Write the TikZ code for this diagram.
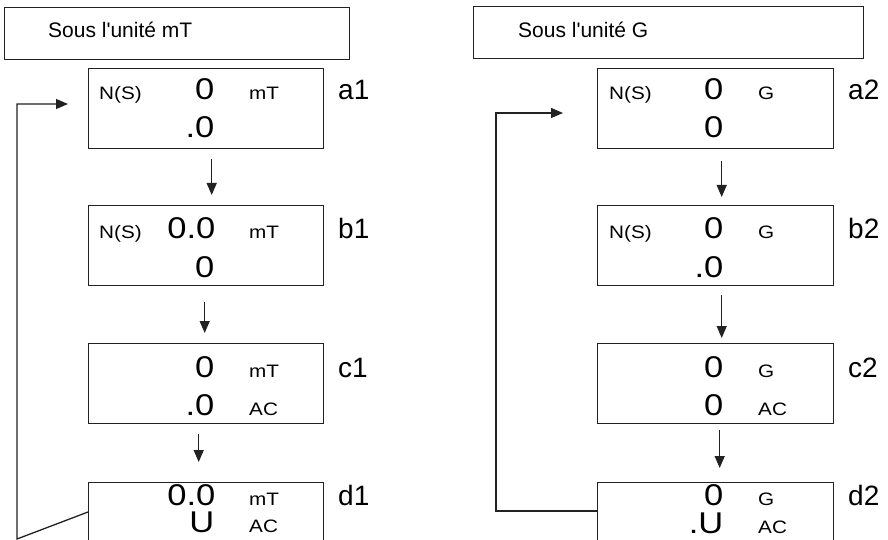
\documentclass[tikz,border=0pt]{standalone}
\usepackage{fontspec}
\setmainfont{Liberation Sans}
\newfontfamily\dispfont[FakeStretch=1.15]{Liberation Sans}
\usetikzlibrary{arrows.meta,calc}
\definecolor{lc}{RGB}{34,34,34}
\tikzset{
  dbox/.style={draw=lc, line width=1.4pt, rectangle, minimum width=235pt, minimum height=80pt, inner sep=0pt, anchor=north west},
  tbox/.style={draw=lc, line width=1.4pt, rectangle, inner sep=0pt, anchor=north west, minimum height=52pt},
  big/.style={font=\dispfont\fontsize{30}{30}\selectfont, inner sep=0pt, anchor=base east},
  unit/.style={font=\dispfont\fontsize{18}{18}\selectfont, inner sep=0pt, anchor=base west},
  lbl/.style={font=\fontsize{28}{28}\selectfont, inner sep=0pt, anchor=base west},
  ttl/.style={font=\fontsize{21}{21}\selectfont, inner sep=0pt, anchor=base west},
  arr/.style={draw=lc, line width=1.3pt, -{Triangle[length=12pt,width=10pt]}},
  lin/.style={draw=lc, line width=1.3pt},
}
\begin{document}
\begin{tikzpicture}[x=1pt,y=-1pt]
\useasboundingbox (0,0) rectangle (888,540);
\clip (0,0) rectangle (888,540);
% titles
\node[tbox, minimum width=345pt] (t1) at (4,7) {};
\node[ttl] (t1txt) at (48,38) {Sous l\textquotesingle unité mT};
\node[tbox, minimum width=390pt] (t2) at (473,6) {};
\node[ttl] (t2txt) at (518,38) {Sous l\textquotesingle unité G};
% left column boxes
\node[dbox] (a1) at (88,68) {};
\node[dbox] (b1) at (88,205) {};
\node[dbox] (c1) at (88,343) {};
\node[dbox] (d1) at (88,482) {};
% right column boxes
\node[dbox, minimum width=236pt] (a2) at (597,68) {};
\node[dbox, minimum width=236pt] (b2) at (597,205) {};
\node[dbox, minimum width=236pt] (c2) at (597,343) {};
\node[dbox, minimum width=236pt] (d2) at (597,482) {};
% a1
\node[unit] (a1n) at (99,100) {N(S)};
\node[big] (a1v) at (214.5,100) {0};
\node[unit] (a1u) at (249,100) {mT};
\node[big] (a1w) at (214.5,138) {.0};
% b1
\node[unit] (b1n) at (99,238) {N(S)};
\node[big] (b1v) at (215.5,238) {0.0};
\node[unit] (b1u) at (249,238) {mT};
\node[big] (b1w) at (214.5,277) {0};
% c1
\node[big] (c1v) at (214.5,377) {0};
\node[unit] (c1u) at (249,377) {mT};
\node[big] (c1w) at (214.5,415) {.0};
\node[unit] (c1x) at (249,415) {AC};
% d1
\node[big] (d1v) at (215.5,505) {0.0};
\node[unit] (d1u) at (249,505) {mT};
\node[big] (d1w) at (214.5,532) {U};
\node[unit] (d1x) at (249,532) {AC};
% a2
\node[unit] (a2n) at (609,100) {N(S)};
\node[big] (a2v) at (723.5,100) {0};
\node[unit] (a2u) at (758,100) {G};
\node[big] (a2w) at (723.5,138) {0};
% b2
\node[unit] (b2n) at (609,238) {N(S)};
\node[big] (b2v) at (723.5,238) {0};
\node[unit] (b2u) at (758,238) {G};
\node[big] (b2w) at (723.5,277) {.0};
% c2
\node[big] (c2v) at (723.5,377) {0};
\node[unit] (c2u) at (758,377) {G};
\node[big] (c2w) at (723.5,415) {0};
\node[unit] (c2x) at (758,415) {AC};
% d2
\node[big] (d2v) at (723.5,505) {0};
\node[unit] (d2u) at (758,505) {G};
\node[big] (d2w) at (723.5,533) {.U};
\node[unit] (d2x) at (758,533) {AC};
% labels
\node[lbl] (la1) at (338,100) {a1};
\node[lbl] (lb1) at (338,238) {b1};
\node[lbl] (lc1) at (338,377) {c1};
\node[lbl] (ld1) at (338,505) {d1};
\node[lbl] (la2) at (848,100) {a2};
\node[lbl] (lb2) at (848,238) {b2};
\node[lbl] (lc2) at (848,377) {c2};
\node[lbl] (ld2) at (848,505) {d2};
% down arrows
\draw[arr, shorten <=10pt, shorten >=10pt] ([xshift=5.5pt]a1.south) -- ([xshift=5.5pt]b1.north);
\draw[arr, shorten <=16pt, shorten >=10pt] ([xshift=-1.5pt]b1.south) -- ([xshift=-1.5pt]c1.north);
\draw[arr, shorten <=10pt, shorten >=20pt] ([xshift=-7.5pt]c1.south) -- ([xshift=-7.5pt]d1.north);
\draw[arr, shorten <=12pt, shorten >=8pt] ([xshift=6pt]a2.south) -- ([xshift=6pt]b2.north);
\draw[arr, shorten <=9pt, shorten >=5pt] ([xshift=6pt]b2.south) -- ([xshift=6pt]c2.north);
\draw[arr, shorten <=6pt, shorten >=14pt] ([xshift=4pt]c2.south) -- ([xshift=4pt]d2.north);
% loops
\coordinate (l1end) at (68,104);
\coordinate (l1top) at (17,104);
\coordinate (l1bot) at (17,539);
\draw[arr] ($(d1.north west)+(0,30)$) -- (l1bot) -- (l1top) -- (l1end);
\coordinate (l2end) at (563,113);
\coordinate (l2top) at (496,113);
\coordinate (l2bot) at (496,511);
\draw[arr] ($(d2.north west)+(0,29)$) -- (l2bot) -- (l2top) -- (l2end);
\end{tikzpicture}
\end{document}
